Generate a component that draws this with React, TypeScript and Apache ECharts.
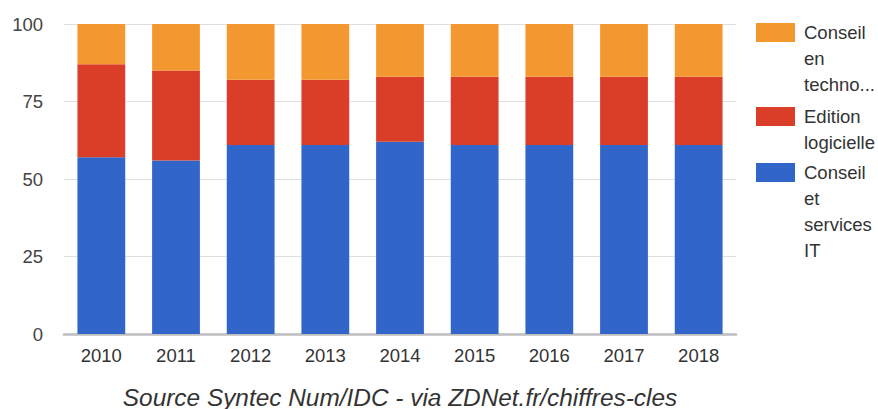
import React, { useEffect, useRef } from "react";
import * as echarts from "echarts";

const years = ["2010", "2011", "2012", "2013", "2014", "2015", "2016", "2017", "2018"];
const conseilServicesIT = [57, 56, 61, 61, 62, 61, 61, 61, 61];
const editionLogicielle = [30, 29, 21, 21, 21, 22, 22, 22, 22];
const conseilTechno = [13, 15, 18, 18, 17, 17, 17, 17, 17];
const yTicks = [0, 25, 50, 75, 100];

const seriesNames = ["Conseil et services IT", "Edition logicielle", "Conseil en technologies"];
const seriesColors = ["#3165ca", "#da3e28", "#f3982f"];
const legendLines = [
  ["Conseil", "en", "techno..."],
  ["Edition", "logicielle"],
  ["Conseil", "et", "services", "IT"],
];
const legendColors = ["#f3982f", "#da3e28", "#3165ca"];
const sourceText = "Source Syntec Num/IDC - via ZDNet.fr/chiffres-cles";

const FONT = "'Liberation Sans', Arial, sans-serif";

export default function App() {
  const ref = useRef<HTMLDivElement>(null);
  useEffect(() => {
    if (!ref.current) return;
    const chart = echarts.init(ref.current, undefined, { renderer: "svg" });
    const legendTops = [23, 107, 163];
    const graphics: any[] = [];
    legendLines.forEach((lines, i) => {
      graphics.push({
        type: "rect",
        left: 756,
        top: legendTops[i],
        shape: { width: 39, height: 19 },
        style: { fill: legendColors[i] },
      });
      graphics.push({
        type: "text",
        left: 804,
        top: legendTops[i] - 3.5,
        style: {
          text: lines.join("\n"),
          font: `18.5px ${FONT}`,
          lineHeight: 26,
          fill: "#333",
        },
      });
    });
    graphics.push({
      type: "text",
      x: 400,
      y: 397,
      style: {
        text: sourceText,
        font: `italic 24.4px ${FONT}`,
        fill: "#333",
        align: "center",
        verticalAlign: "middle",
      },
    });
    const data = [conseilServicesIT, editionLogicielle, conseilTechno];
    chart.setOption({
      animation: false,
      grid: { left: 64, right: 142, top: 24, bottom: 75 },
      xAxis: {
        type: "category",
        data: years,
        axisTick: { show: false },
        axisLine: { lineStyle: { color: "#bdbdbd", width: 2.5 } },
        axisLabel: { color: "#333", fontSize: 18.5, fontFamily: FONT, margin: 12 },
      },
      yAxis: {
        type: "value",
        min: 0,
        max: 100,
        interval: 25,
        axisLine: { show: false },
        axisTick: { show: false },
        splitLine: { lineStyle: { color: "#e0e0e0", width: 1 } },
        axisLabel: {
          color: "#444",
          fontSize: 18.5,
          fontFamily: FONT,
          margin: 21,
          formatter: (v: number) => (yTicks.includes(v) ? String(v) : ""),
        },
      },
      series: seriesNames.map((name, i) => ({
        name,
        type: "bar",
        stack: "total",
        barWidth: "64%",
        data: data[i],
        itemStyle: { color: seriesColors[i] },
      })),
      graphic: graphics,
    });
    return () => chart.dispose();
  }, []);
  return (
    <div
      ref={ref}
      style={{ position: "absolute", left: 0, top: 0, width: 878, height: 409, background: "#fff" }}
    />
  );
}
